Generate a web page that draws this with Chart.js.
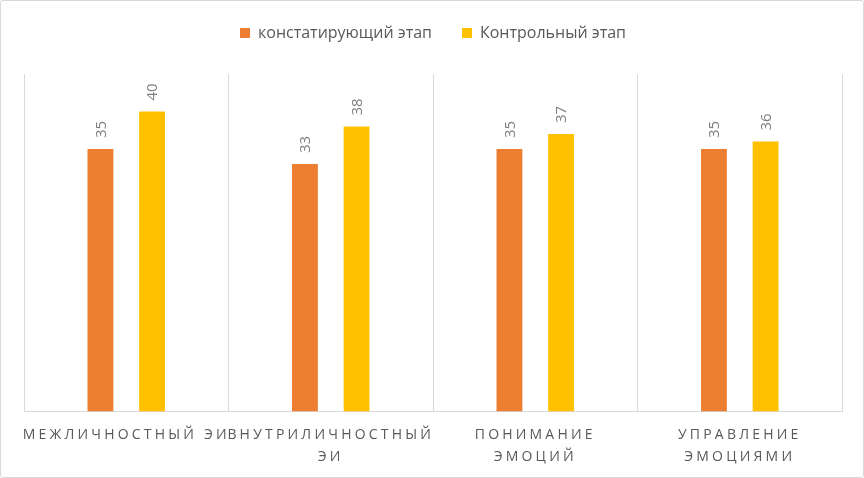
<!DOCTYPE html>
<html>
<head>
<meta charset="utf-8">
<script src="https://cdn.jsdelivr.net/npm/chart.js@4"></script>
<style>
  html, body { margin: 0; padding: 0; background: #fff; }
  #wrap {
    position: relative;
    width: 862px;
    height: 476px;
    border: 1px solid #d9d9d9;
    border-radius: 3px;
  }
</style>
</head>
<body>
<div id="wrap"><canvas id="eiChart"></canvas></div>
<script>
// Categories and values
const categories = [
    ['МЕЖЛИЧНОСТНЫЙ ЭИ'],
    ['ВНУТРИЛИЧНОСТНЫЙ', 'ЭИ'],
    ['ПОНИМАНИЕ', 'ЭМОЦИЙ'],
    ['УПРАВЛЕНИЕ', 'ЭМОЦИЯМИ']
];
const seriesNames = ['констатирующий этап', 'Контрольный этап'];
const stageBefore = [35, 33, 35, 35];
const stageAfter = [40, 38, 37, 36];

// x axis with letter-spaced labels (like the office chart)
class SpacedCategoryScale extends Chart.CategoryScale {
    drawLabels(area) {
        this.ctx.save();
        this.ctx.letterSpacing = '3.2px';
        super.drawLabels(area);
        this.ctx.restore();
    }
}
SpacedCategoryScale.id = 'spacedCategory';
SpacedCategoryScale.defaults = Chart.CategoryScale.defaults;
Chart.register(SpacedCategoryScale);

// Rotated value labels above the bars
const valueLabels = {
    id: 'valueLabels',
    afterDatasetsDraw(chart) {
        const ctx = chart.ctx;
        ctx.save();
        ctx.font = '15px "Open Sans", sans-serif';
        ctx.fillStyle = '#7f7f7f';
        ctx.textAlign = 'left';
        ctx.textBaseline = 'middle';
        chart.data.datasets.forEach((ds, i) => {
            chart.getDatasetMeta(i).data.forEach((bar, j) => {
                ctx.save();
                ctx.translate(bar.x + 1, bar.y - 11);
                ctx.rotate(-Math.PI / 2);
                ctx.fillText(String(ds.data[j]), 0, 0);
                ctx.restore();
            });
        });
        ctx.restore();
    }
};

// extra gap between legend and plot
const legendGap = {
    id: 'legendGap',
    beforeInit(chart) {
        const fit = chart.legend.fit;
        chart.legend.fit = function () {
            fit.bind(chart.legend)();
            this.height += 23;
        };
    }
};

new Chart(document.getElementById('eiChart'), {
    type: 'bar',
    data: {
        labels: categories,
        datasets: [
            {
                label: seriesNames[0],
                data: stageBefore,
                backgroundColor: '#ed7d31'
            },
            {
                label: seriesNames[1],
                data: stageAfter,
                backgroundColor: '#ffc000'
            }
        ]
    },
    options: {
        responsive: true,
        maintainAspectRatio: false,
        animation: false,
        categoryPercentage: 0.505,
        barPercentage: 0.5,
        layout: {
            padding: { left: 23, right: 21, top: -6, bottom: -4 }
        },
        plugins: {
            legend: {
                position: 'top',
                labels: {
                    boxWidth: 10,
                    boxHeight: 10,
                    padding: 30,
                    color: '#595959',
                    font: { family: '"Open Sans", sans-serif', size: 16 }
                }
            },
            tooltip: { enabled: false }
        },
        scales: {
            x: {
                type: 'spacedCategory',
                grid: {
                    display: true,
                    offset: true,
                    color: '#d9d9d9',
                    lineWidth: 1,
                    drawTicks: false
                },
                border: { display: true, color: '#d9d9d9' },
                ticks: {
                    color: '#595959',
                    autoSkip: false,
                    maxRotation: 0,
                    minRotation: 0,
                    padding: 13,
                    font: { family: '"Open Sans", sans-serif', size: 14, lineHeight: 1.55 }
                }
            },
            y: {
                position: 'right',
                min: 0,
                max: 45,
                grid: { display: false, drawTicks: false },
                border: { display: true, color: '#d9d9d9' },
                ticks: { display: false }
            }
        }
    },
    plugins: [valueLabels, legendGap]
});
</script>
</body>
</html>
